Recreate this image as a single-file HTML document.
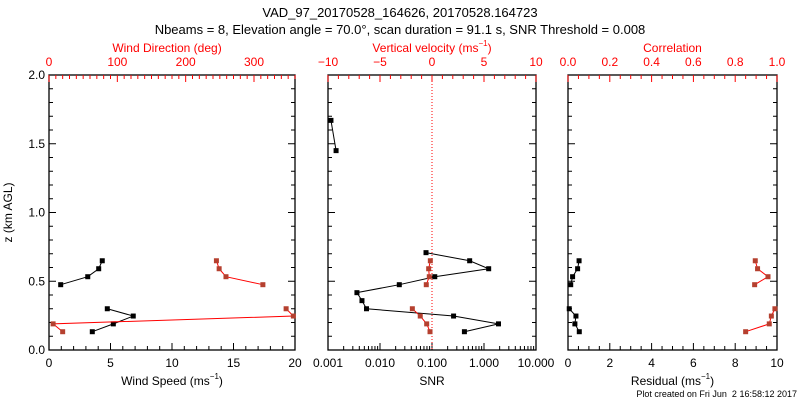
<!DOCTYPE html>
<html><head><meta charset="utf-8"><style>
html,body{margin:0;padding:0;background:#fff;}
svg{display:block;font-family:"Liberation Sans","DejaVu Sans",sans-serif;}
text{white-space:pre;}
</style></head><body>
<svg id="chart" width="800" height="400" viewBox="0 0 800 400" xml:space="preserve">
<text x="400" y="17" font-size="13" text-anchor="middle">VAD_97_20170528_164626, 20170528.164723</text>
<text x="400" y="34" font-size="13" text-anchor="middle">Nbeams = 8, Elevation angle = 70.0°, scan duration = 91.1 s, SNR Threshold = 0.008</text>
<text x="797" y="397" font-size="9" text-anchor="end">Plot created on Fri Jun  2 16:58:12 2017</text>
<g id="g"></g>
</svg>
<script>
// data
const heightsLow = [0.133, 0.19, 0.247, 0.30];
const heightsHigh = [0.475, 0.533, 0.591, 0.649];
const speedLow = [3.52, 5.23, 6.85, 4.74];
const speedHigh = [0.95, 3.15, 4.04, 4.33];
const dirLow = [20, 6, 357.6, 347];
const dirHigh = [313, 259, 249, 245];
const snrHeights = [0.133, 0.19, 0.247, 0.30, 0.359, 0.417, 0.475, 0.533, 0.591, 0.649, 0.708];
const snrValues = [0.42, 1.9, 0.26, 0.0055, 0.0045, 0.0036, 0.0235, 0.113, 1.23, 0.53, 0.0767];
const snrHighHeights = [1.45, 1.67];
const snrHighValues = [0.00143, 0.00114];
const wLow = [-0.19, -0.51, -1.13, -1.89];
const wHigh = [-0.55, -0.26, -0.32, -0.16];
const residLow = [0.54, 0.33, 0.38, 0.06];
const residHigh = [0.13, 0.22, 0.46, 0.53];
const corrLow = [0.85, 0.963, 0.973, 0.99];
const corrHigh = [0.893, 0.957, 0.907, 0.896];
const yTicks = [0.0, 0.5, 1.0, 1.5, 2.0];
const speedTicks = [0, 5, 10, 15, 20];
const dirTicks = [0, 100, 200, 300];
const snrTicks = ["0.001", "0.010", "0.100", "1.000", "10.000"];
const velTicks = [-10, -5, 0, 5, 10];
const residTicks = [0, 2, 4, 6, 8, 10];
const corrTicks = ["0.0", "0.2", "0.4", "0.6", "0.8", "1.0"];

const NS = "http://www.w3.org/2000/svg";
const g = document.getElementById('g');
const TOP = 75, BOT = 350, RED = "#ff0000", MRED = "#b5402f";
function mk(tag, attrs, parent) {
  const e = document.createElementNS(NS, tag);
  for (const k in attrs) e.setAttribute(k, attrs[k]);
  (parent || g).appendChild(e);
  return e;
}
const yS = v => BOT - (v / 2) * (BOT - TOP);
function lin(a, b, x0, x1) { return v => x0 + (v - a) / (b - a) * (x1 - x0); }
function lg(a, b, x0, x1) { return v => x0 + (Math.log10(v) - Math.log10(a)) / (Math.log10(b) - Math.log10(a)) * (x1 - x0); }

function txt(x, y, s, name, col, anchor, size) {
  const t = mk('text', {x: x, y: y, 'font-size': size || 12, fill: col || '#000', 'text-anchor': anchor || 'middle'});
  t.textContent = s;
  
  
  return t;
}
function unitTitle(xc, y, label, col, name) {
  const t = mk('text', {x: xc, y: y, 'font-size': 12, fill: col, 'text-anchor': 'middle'});
  
  
  const a = mk('tspan', {}, t); a.textContent = label + ' (ms';
  const b = mk('tspan', {dy: -6, 'font-size': 8}, t); b.textContent = '−1';
  const c = mk('tspan', {dy: 6}, t); c.textContent = ')';
  return t;
}
function frame(x0, x1, name) {
  const r = mk('rect', {x: x0, y: TOP, width: x1 - x0, height: BOT - TOP, fill: 'none', stroke: '#000', 'stroke-width': 1.3});
  
  
  for (let v = 0; v <= 2.0001; v += 0.1) {
    const y = yS(v), major = Math.abs(v * 2 - Math.round(v * 2)) < 1e-6;
    const L = major ? 7 : 4;
    mk('line', {x1: x0, x2: x0 + L, y1: y, y2: y, stroke: '#000'});
    mk('line', {x1: x1, x2: x1 - L, y1: y, y2: y, stroke: '#000'});
  }
}
function linTicks(sc, a, b, minor, major, y, dir, col) {
  for (let v = a; v <= b + 1e-9; v += minor) {
    const m = Math.abs(v / major - Math.round(v / major)) < 1e-6;
    const x = sc(v);
    mk('line', {x1: x, x2: x, y1: y, y2: y + dir * (m ? 7 : 4), stroke: col});
  }
}
function series(xs, ys, xsc, lineCol, markCol, name) {
  const pts = xs.map((v, i) => [xsc(v), yS(ys[i])]);
  const pl = mk('polyline', {points: pts.map(p => p.join(',')).join(' '), fill: 'none', stroke: lineCol, 'stroke-width': 1});
  
  
  pts.forEach(p => {
    const r = mk('rect', {x: p[0] - 2.5, y: p[1] - 2.5, width: 5, height: 5, fill: markCol});
    
    
  });
}

// Panel 1
const P1 = [49, 295];
const sx = lin(0, 20, P1[0], P1[1]);
const dx = lin(0, 360, P1[0], P1[1]);
frame(P1[0], P1[1], 'wind-panel-frame');
linTicks(sx, 0, 20, 1, 5, BOT, -1, '#000');
linTicks(dx, 0, 360, 10, 100, TOP, 1, RED);
yTicks.forEach(v => txt(P1[0] - 4, yS(v) + 4, v.toFixed(1), 'y-tick-label', '#000', 'end'));
speedTicks.forEach(v => txt(sx(v), 367, String(v), 'speed-tick-label'));
dirTicks.forEach(v => txt(dx(v), 66, String(v), 'direction-tick-label', RED));
unitTitle(sx(10), 385, 'Wind Speed', '#000', 'x-axis-title-speed');
txt(sx(10) - 5, 52, 'Wind Direction (deg)', 'x-axis-title-direction', RED);
const yt = txt(0, 0, 'z (km AGL)', 'y-axis-title');
yt.setAttribute('transform', 'translate(12,' + yS(1) + ') rotate(-90)');
series(speedLow, heightsLow, sx, '#000', '#000', 'wind-speed-low');
series(speedHigh, heightsHigh, sx, '#000', '#000', 'wind-speed-high');
series(dirLow, heightsLow, dx, RED, MRED, 'wind-direction-low');
series(dirHigh, heightsHigh, dx, RED, MRED, 'wind-direction-high');

// Panel 2
const P2 = [328, 536];
const nx = lg(0.001, 10, P2[0], P2[1]);
const vx = lin(-10, 10, P2[0], P2[1]);
frame(P2[0], P2[1], 'snr-panel-frame');
for (let d = -3; d <= 0; d++) {
  for (let k = 1; k <= 9; k++) {
    const x = nx(k * Math.pow(10, d));
    mk('line', {x1: x, x2: x, y1: BOT, y2: BOT - (k === 1 ? 7 : 4), stroke: '#000'});
  }
}
linTicks(vx, -10, 10, 1, 5, TOP, 1, RED);
const zl = mk('line', {x1: vx(0), x2: vx(0), y1: TOP, y2: BOT, stroke: RED, 'stroke-dasharray': '1,2'});


snrTicks.forEach(s => txt(nx(parseFloat(s)), 367, s, 'snr-tick-label'));
velTicks.forEach(v => txt(vx(v), 66, (v < 0 ? '−' : '') + Math.abs(v), 'velocity-tick-label', RED));
txt(nx(0.1), 385, 'SNR', 'x-axis-title-snr');
unitTitle(vx(0), 52, 'Vertical velocity', RED, 'x-axis-title-velocity');
series(snrValues, snrHeights, nx, '#000', '#000', 'snr');
series(snrHighValues, snrHighHeights, nx, '#000', '#000', 'snr-upper');
series(wLow, heightsLow, vx, RED, MRED, 'vertical-velocity-low');
series(wHigh, heightsHigh, vx, RED, MRED, 'vertical-velocity-high');

// Panel 3
const P3 = [568, 777];
const rx = lin(0, 10, P3[0], P3[1]);
const cx = lin(0, 1, P3[0], P3[1]);
frame(P3[0], P3[1], 'residual-panel-frame');
linTicks(rx, 0, 10, 0.5, 2, BOT, -1, '#000');
linTicks(cx, 0, 1, 0.05, 0.2, TOP, 1, RED);
residTicks.forEach(v => txt(rx(v), 367, String(v), 'residual-tick-label'));
corrTicks.forEach(s => txt(cx(parseFloat(s)), 66, s, 'correlation-tick-label', RED));
unitTitle(rx(5), 385, 'Residual', '#000', 'x-axis-title-residual');
txt(cx(0.5), 52, 'Correlation', 'x-axis-title-correlation', RED);
series(residLow, heightsLow, rx, '#000', '#000', 'residual-low');
series(residHigh, heightsHigh, rx, '#000', '#000', 'residual-high');
series(corrLow, heightsLow, cx, RED, MRED, 'correlation-low');
series(corrHigh, heightsHigh, cx, RED, MRED, 'correlation-high');
</script>
</body></html>
